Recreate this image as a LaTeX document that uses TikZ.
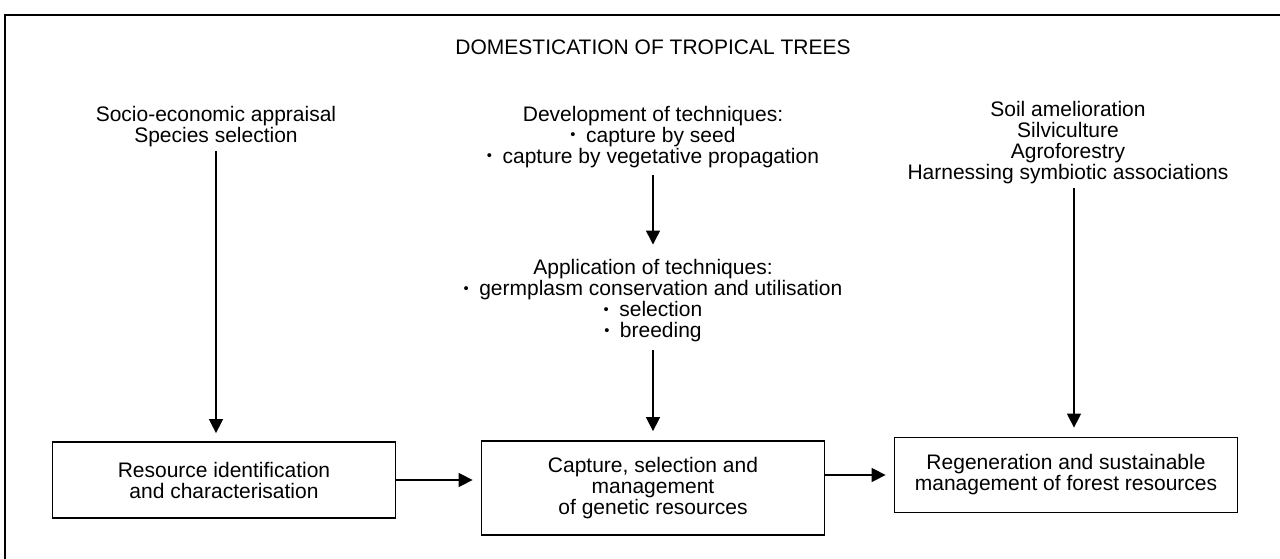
\documentclass[tikz,border=0pt]{standalone}
\usepackage{fontspec}
\setmainfont{Liberation Sans}
\usepackage{graphicx}
\usepackage{tikz}
\usetikzlibrary{positioning,arrows.meta}
\newcommand{\bul}{\raisebox{0.12em}{\scalebox{0.7}{\textbullet}}\hspace{0.5em}}

\begin{document}
\begin{tikzpicture}[x=1pt, y=-1pt,
    every node/.style={font=\fontsize{21}{21}\selectfont},
    txt/.style={align=center, inner sep=2pt},
    stage/.style={rectangle, draw, line width=1.8pt, align=center, minimum width=343pt, minimum height=76pt},
    arr/.style={-{Triangle[length=14pt,width=14pt]}, line width=1.5pt}]
    \useasboundingbox (0,0) rectangle (1280,559);
    % Frame
    \draw[line width=2pt] (1280,15) -- (5,15) -- (5,559);
    % Title
    \node (title) at (653,47) {DOMESTICATION OF TROPICAL TREES};
    % Text: left column
    \node[txt] (socio) at (216,127) {Socio-economic appraisal\\Species selection};
    % Text: middle column
    \node[txt] (develop) at (653,137) {Development of techniques:\\\bul capture by seed\\\bul capture by vegetative propagation};
    \node[txt] (apply) at (653,301) {Application of techniques:\\\bul germplasm conservation and utilisation\\\bul selection\\\bul breeding};
    % Text: right column
    \node[txt] (soil) at (1068,143) {Soil amelioration\\Silviculture\\Agroforestry\\Harnessing symbiotic associations};
    % Rectangle: Resource
    \node[stage] (resource) at (224,480) {Resource identification\\and characterisation};
    % Rectangle: Capture
    \node[stage, minimum height=94pt] (capture) at (653,488) {Capture, selection and\\management\\of genetic resources};
    % Rectangle: Regeneration
    \node[stage, minimum height=75pt] (regen) at (1066,475) {Regeneration and sustainable\\management of forest resources};
    % Arrows
    \draw[arr, shorten <=2pt, shorten >=8pt] (socio.south) -- (socio.south |- resource.north);
    \draw[arr, shorten <=5pt, shorten >=13pt] (develop) -- (apply);
    \draw[arr, shorten <=6pt, shorten >=9pt] (apply) -- (capture);
    \draw[arr, shorten <=2pt, shorten >=9pt] ([xshift=6pt]soil.south) -- ([xshift=6pt]soil.south |- regen.north);
    \draw[arr, shorten >=8pt] (resource.east) -- (resource.east -| capture.west);
    \draw[arr, shorten >=8pt] (capture.east |- regen.east) -- (regen.west);
\end{tikzpicture}
\end{document}
